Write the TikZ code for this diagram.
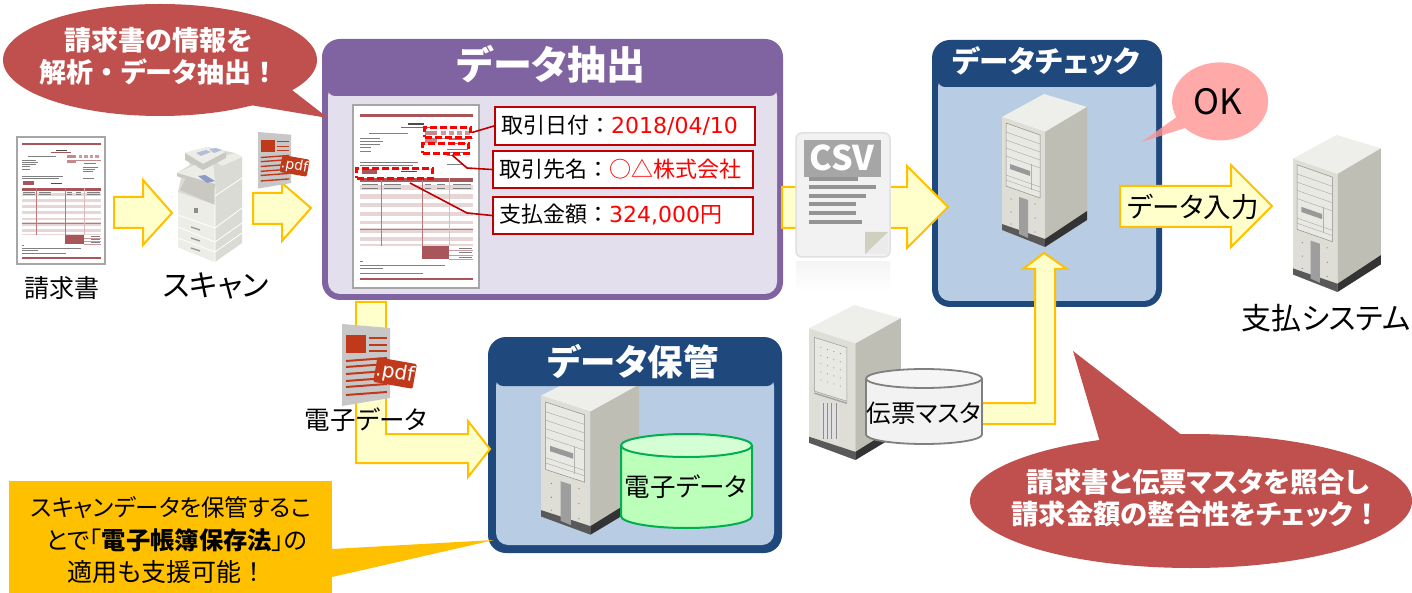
\documentclass[tikz,border=0pt]{standalone}
\usepackage{fontspec}
\setmainfont{Noto Sans CJK JP}[RawFeature=+palt]
\newfontfamily\latf{DejaVu Sans}
\newfontfamily\plainf{Noto Sans CJK JP}
\newcommand{\fw}[1]{{\plainf #1}}
\definecolor{purp}{HTML}{8064A2}
\definecolor{purpl}{HTML}{E4DFEC}
\definecolor{navy}{HTML}{1F497D}
\definecolor{bluel}{HTML}{B8CCE4}
\definecolor{bubred}{HTML}{C0504D}
\definecolor{dred}{HTML}{C00000}
\definecolor{arrfill}{HTML}{FFFFCC}
\definecolor{arrline}{HTML}{FFC000}
\definecolor{invred}{HTML}{A9565A}
\definecolor{invpink}{HTML}{E8D6D6}
\definecolor{pdfred}{HTML}{C0391B}
\definecolor{srvtop}{HTML}{EEEFEA}
\definecolor{srvfront}{HTML}{DEDED6}
\definecolor{srvbay}{HTML}{E9E9E3}
\definecolor{srvright}{HTML}{BEBEB5}
\definecolor{foldc}{HTML}{CFD0BF}
\definecolor{cylg}{HTML}{BBFFBB}
\definecolor{cylgt}{HTML}{D4FFD4}
\definecolor{cylb}{HTML}{00B050}
\definecolor{okpink}{HTML}{FF9494}
\definecolor{scanblue}{HTML}{8C9CC8}
\definecolor{scanblueb}{HTML}{B4BED8}
\definecolor{scanf}{HTML}{EDEDE7}
\definecolor{scanr}{HTML}{DBDBD5}
\definecolor{scand}{HTML}{C9C9C2}
\tikzset{
  fs/.style={font=\fontsize{#1}{#1}\selectfont,inner sep=0pt},
  fsb/.style={font=\bfseries\fontsize{#1}{#1}\selectfont,inner sep=0pt,text=white},
  blockarrow/.style={draw=arrline,fill=arrfill,line width=2pt,miter limit=10},
  tline/.style={draw=black!50,line width=.6pt},
  labelbox/.style={draw=dred,fill=white,line width=2pt,inner sep=0pt,anchor=north west},
  leader/.style={draw=dred,line width=1.6pt},
  dashbox/.style={draw=red,line width=3pt,dash pattern=on 7pt off 3pt,inner sep=0pt,anchor=north west},
}
\newcommand{\panelbase}[9]{%
  \fill[#6,rounded corners=#9] (#1,#2) rectangle (#3,#4);
  \fill[#7,rounded corners=12pt] (#1+#8,#5-12) rectangle (#3-#8,#4-#8);
}
\newcommand{\panelhead}[7]{%
  \fill[#6,rounded corners=7pt] (#1+#7,#2+12) rectangle (#3-#7,#5);
}
\newcommand{\serverpic}[5]{%
\begin{scope}[shift={(#1,#2)},xscale=#3,yscale=#4]
  \fill[srvtop] (0,23)--(42,0)--(85,13)--(43,38)--cycle;
  \fill[srvfront] (0,23)--(43,38)--(43,153)--(0,136)--cycle;
  \fill[srvright] (43,38)--(85,13)--(85,126)--(43,153)--cycle;
  \fill[black!65] (0,130)--(43,145)--(43,153)--(0,136)--cycle;
  \fill[black!80] (43,145)--(85,117)--(85,126)--(43,153)--cycle;
  \ifnum#5=0
    \fill[srvbay] (4,29)--(38,41)--(38,104)--(4,92)--cycle;
    \draw[black!45,line width=.5pt] (4,29)--(38,41)--(38,104)--(4,92)--cycle;
    \foreach \d in {9,17,25,33,52,57}{\draw[black!35,line width=.4pt] (4,29+\d)--(38,41+\d);}
    \fill[black!40] (8,70)--(28,77)--(28,82)--(8,75)--cycle;
    \draw[black!30,line width=.4pt] (29,70)--(29,96);
    \fill[black!38] (17,103)--(26,106)--(26,144)--(17,140)--cycle;
    \foreach \p in {(9,105),(9,118),(9,130),(33,110),(33,124),(33,138)}{\fill[black!50] \p circle (.6);}
  \else
    \fill[srvbay] (5,32)--(35,42)--(35,95)--(5,85)--cycle;
    \draw[black!40,line width=.5pt] (5,32)--(35,42)--(35,95)--(5,85)--cycle;
    \foreach \i in {0,1,2,3}{\foreach \j in {0,1,2,3,4}{\fill[black!45] (11+\i*6,42+\i*2+\j*8) circle (.55);}}
    \draw[black!35,line width=1.5pt] (5,87)--(35,97);
    \fill[black!12] (10,95)--(28,101)--(28,137)--(10,130)--cycle;
    \foreach \v in {13,17,21,25}{\draw[black!45,line width=.5pt] (\v,97)--(\v,132);}
  \fi
\end{scope}}
\newcommand{\pdficon}[5]{%
\begin{scope}[shift={(#1,#2)},scale=#3]
  \fill[black!22] (0,0)--(48,4)--(48,74)--(0,82)--cycle;
  \fill[pdfred] (4,11)--(24,11)--(24,29)--(4,29)--cycle;
  \foreach \y in {14,21,27}{\draw[pdfred,line width=#3*2pt] (27,\y)--(45,\y);}
  \foreach \y in {37,43,50,57,63,71}{\draw[pdfred,line width=#3*2pt] (4,\y)--(45,\y-3);}
\end{scope}
\node[fill=pdfred,rounded corners=1.5pt,rotate=-10,text=white,font=\latf\fontsize{#5}{#5}\selectfont,minimum width=#3*40pt,minimum height=#3*25pt,inner sep=0pt] (#4) at (#1+#3*53,#2+#3*49) {.pdf};
}
\newcommand{\invoice}[4]{%
\begin{scope}[shift={(#1,#2)},xscale=#3,yscale=#4]
  \fill[white,draw=black!35,line width=1.6pt] (0,0) rectangle (126,183);
  \fill[invred] (7,9) rectangle (120,12);
  \draw[invred,line width=.7pt] (48,22)--(77,22);
  \draw[black!70,line width=1.3pt] (55,19)--(71,19);
  \foreach \a/\b/\y in {16/55/28,7/27/33,7/30/36,7/27/39,7/18/42,7/18/46,7/65/57,7/60/60,94/115/44,94/112/47,94/108/50,94/110/59,96/113/34,96/113/38}{\draw[tline] (\a,\y)--(\b,\y);}
  \fill[invred!70] (72,26) rectangle (84,30);
  \foreach \x in {88,96,104,112}{\fill[invred!60] (\x,26) rectangle (\x+5,30);}
  \draw[invred!70,line width=.6pt] (72,33)--(120,33);
  \fill[invred!70] (72,34) rectangle (84,38);
  \fill[invred] (9,64) rectangle (24,69);
  \draw[black!70,line width=.9pt] (48,66.5)--(64,66.5);
  \fill[invred] (7,73) rectangle (120,77);
  \foreach \t/\b in {80/85,89/94,98/102,107/111,116/119,123/128,132/136,139/141}{\fill[invpink] (7,\t) rectangle (120,\b);}
  \draw[invred!80,line width=.6pt] (7,124)--(120,124);
  \foreach \y in {79,83}{\draw[tline] (9,\y)--(25,\y);\draw[tline] (31,\y)--(48,\y);\draw[tline] (72,\y)--(78,\y);\draw[tline] (84,\y)--(92,\y);\draw[tline] (100,\y)--(118,\y);}
  \draw[invred!80,line width=.5pt] (28,73)--(28,141);
  \draw[invred!80,line width=.5pt] (69,73)--(69,141);
  \draw[invred!40,line width=.5pt] (96,73)--(96,141);
  \fill[invred] (69,141) rectangle (96,154);
  \draw[invred!60,line width=.5pt] (96,145)--(120,145) (96,150)--(120,150) (96,154)--(120,154);
  \foreach \y in {143,147.5,152}{\draw[tline] (106,\y)--(119,\y);}
  \foreach \a/\b/\y in {7/10/156,7/92/160,7/30/163,7/70/168}{\draw[tline] (\a,\y)--(\b,\y);}
  \fill[invred] (7,173) rectangle (120,175);
\end{scope}}
\begin{document}
\begin{tikzpicture}[x=1pt,y=-1pt]
\useasboundingbox (0,0) rectangle (1412,593);
\fill[white] (0,0) rectangle (1412,593);

% ---------- panels
\panelbase{322}{39}{783}{300}{96}{purp}{purpl}{6}{18pt}
\panelhead{322}{39}{783}{300}{96}{purp}{6}
\panelbase{932}{40}{1162}{307}{87}{navy}{bluel}{6}{18pt}
\panelhead{932}{40}{1162}{307}{87}{navy}{6}
\panelbase{488}{337}{782}{553}{386}{navy}{bluel}{8}{18pt}
\serverpic{541}{371}{1.15}{1.07}{0}
\panelhead{488}{337}{782}{553}{386}{navy}{8}

\node[fsb=39] (t1) at (551,64) {データ抽出};
\node[fsb=29.5] (t2) at (1046,61) {データチェック};
\node[fsb=35.5] (t3) at (633,362) {データ保管};

% ---------- block arrows
\draw[blockarrow] (114,197)--(143,197)--(143,180)--(172,213)--(143,245)--(143,228)--(114,228)--cycle;
\draw[blockarrow] (253,193)--(282,193)--(282,183)--(311,208)--(282,241)--(282,224)--(253,224)--cycle;
\draw[blockarrow] (356,302)--(386,302)--(386,434)--(468,434)--(468,421)--(490,449)--(468,477)--(468,463)--(356,463)--cycle;
\draw[blockarrow] (782,187)--(907,187)--(907,166)--(948,207)--(907,248)--(907,228)--(782,228)--cycle;
\draw[blockarrow] (1120,186)--(1231,186)--(1231,165)--(1272,206)--(1231,247)--(1231,227)--(1120,227)--cycle;

% ---------- invoices
\invoice{17}{137}{.7}{.695}
\invoice{353}{105}{1}{1}

% ---------- dashed areas and labels
\node[dashbox,minimum width=46pt,minimum height=10pt] (dA) at (423,126) {};
\node[dashbox,minimum width=46pt,minimum height=10pt] (dB) at (421,142) {};
\node[dashbox,minimum width=76pt,minimum height=10pt] (dC) at (355,167) {};
\node[labelbox,minimum width=260pt,minimum height=38pt] (L1) at (494,106) {};
\node[labelbox,minimum width=260pt,minimum height=37pt] (L2) at (492,150) {};
\node[labelbox,minimum width=260pt,minimum height=37pt] (L3) at (492,196) {};
\node[fs=22,anchor=west] (l1t) at (501,125) {取引日付\fw{：}\textcolor{red}{\latf 2018/04/10}};
\node[fs=22,anchor=west] (l2t) at (499,169) {取引先名\fw{：}\textcolor{red}{\fw{○△株式会社}}};
\node[fs=22,anchor=west] (l3t) at (499,215) {支払金額\fw{：}\textcolor{red}{{\latf 324,000}円}};
\coordinate (k2) at (467,168);
\coordinate (k2b) at (452,155);
\coordinate (k3) at (467,213);
\coordinate (k3b) at (410,183);
\draw[leader] (L1.west) -- (dA.east);
\draw[leader] (L2.west) -- (k2) -- (k2b);
\draw[leader] (L3.west) -- (k3) -- (k3b);

% ---------- scanner
\fill[scanr] (185,153)--(207,147)--(235,153)--(242,157)--(242,243)--(215,262)--(178,247)--(178,192)--(181,178)--(177,176)--(177,173)--(190,165)--cycle;
\fill[scand] (180,190)--(186,178)--(215,187)--(215,205)--cycle;
\fill[scanf] (178,192)--(215,205)--(215,262)--(178,247)--cycle;
\draw[white,line width=.8pt] (178,215)--(215,228)--(242,208) (178,227)--(215,242)--(242,223) (178,238)--(215,252)--(242,233) (215,186)--(215,262) (215,196)--(242,178);
\foreach \y in {227,238,248}{\draw[black!40,line width=1.3pt] (191,\y)--(200,\y+3);}
\fill[black!45] (194,208) rectangle (198,213);
\fill[scanf] (190,158)--(203,164)--(213,160)--(215,182)--(195,165)--cycle;
\fill[scanf] (213,160)--(235,153)--(242,157)--(222,166)--cycle;
\fill[scanf] (185,153)--(207,147)--(226,152)--(203,164)--cycle;
\fill[scand] (185,153)--(203,164)--(226,152)--(226,158)--(203,170)--(185,160)--cycle;
\fill[scanf] (177,173)--(195,165)--(215,182)--(215,186)--(177,175)--cycle;
\fill[scand] (177,173)--(215,184)--(215,188)--(177,176)--cycle;
\fill[scanblue] (198,176)--(205,175)--(215,181)--(207,183)--cycle;
\fill[scanblueb] (196,153)--(206,150)--(211,152)--(201,156)--cycle;
\fill[scanblueb] (209,149)--(216,148)--(222,150)--(214,153)--cycle;

% ---------- pdf icons
\pdficon{258}{132}{.69}{p1}{14}
\pdficon{342}{324}{1}{p2}{20}

% ---------- CSV document
\shade[top color=black!4,bottom color=white] (796,262) rectangle (890,292);
\fill[black!5,draw=black!12,line width=1.5pt,rounded corners=6pt] (796,133)--(890,133)--(890,257)--(796,257)--cycle;
\fill[black!8] (865,254)--(888,232)--(888,254)--cycle;
\fill[foldc] (865,232)--(888,232)--(865,254)--cycle;
\fill[black!35] (804,140) rectangle (881,177);
\foreach \b/\y in {858/179,876/187,866/196,856/204,856/213,862/222}{\fill[black!42] (809,\y-2) rectangle (\b,\y+2);}
\node[inner sep=0pt,text=white,font=\plainf\bfseries\fontsize{34}{34}\selectfont] (csv) at (842,158) {CSV};

% ---------- master
\serverpic{809}{305}{1.08}{1.013}{1}
\draw[blockarrow] (982,403)--(1035,403)--(1035,269)--(1023,269)--(1044,253)--(1067,269)--(1055,269)--(1055,424)--(982,424)--cycle;

% ---------- servers
\serverpic{1002}{94}{1}{1}{0}
\serverpic{1293}{135}{1.035}{1.026}{0}

% ---------- cylinders
\draw[fill=black!5,draw=black!50,line width=1.8pt] (866,378.5)--(866,434.5) arc[start angle=180,end angle=0,x radius=58,y radius=9.5] -- (982,378.5);
\draw[black!50,line width=1.8pt,fill=black!4] (924,378.5) ellipse[x radius=58,y radius=9.5];
\draw[fill=cylg,draw=cylb,line width=2pt] (621,445.5)--(621,516) arc[start angle=180,end angle=0,x radius=65.5,y radius=12] -- (752,445.5);
\draw[draw=cylb,line width=2pt,fill=cylgt] (686.5,445.5) ellipse[x radius=65.5,y radius=11.5];
\node[fs=24.5] (mst) at (924,413) {伝票マスタ};
\node[fs=25.5] (cyl) at (686,487) {電子データ};

% ---------- plain captions
\node[fs=25] (c1) at (62,288) {請求書};
\node[fs=30] (c2) at (216,286) {スキャン};
\node[fs=30] (c3) at (1326,318) {支払システム};
\node[fs=25.5] (c4) at (366,420) {電子データ};
\node[fs=27.5] (c5) at (1193,207) {データ入力};

% ---------- bubbles
\fill[bubred] (160,60) ellipse[x radius=157,y radius=56];
\fill[bubred] (292,90)--(328,118)--(250,105)--cycle;
\node[fsb=27] (b1a) at (158.5,40) {請求書の情報を};
\node[fsb=27] (b1b) at (159,72) {解析\fw{・}データ抽出\fw{！}};

\fill[bubred] (1191,501) ellipse[x radius=221,y radius=67];
\fill[bubred] (1073,351)--(1183,436)--(1100,442)--cycle;
\node[fsb=27.5] (b2a) at (1198,482) {請求書と伝票マスタを照合し};
\node[fsb=27.3] (b2b) at (1196,514) {請求金額の整合性をチェック\fw{！}};

\fill[okpink,opacity=.8] (1185,128) arc[start angle=137,end angle=-204,x radius=48,y radius=39] -- (1141.5,142) -- cycle;
\node[inner sep=0pt,font=\plainf\fontsize{35}{35}\selectfont] (ok) at (1218,102) {OK};

\fill[arrline] (9,481) rectangle (332,593);
\fill[arrline] (332,549)--(494,540)--(332,577)--cycle;
\node[fs=23.5] (n1) at (171,508) {スキャンデータを保管するこ};
\node[fs=24.3] (n2) at (177,540) {とで「\textbf{電子帳簿保存法}」の};
\node[fs=25] (n3) at (167,572) {適用も支援可能\fw{！}};
\end{tikzpicture}
\end{document}
